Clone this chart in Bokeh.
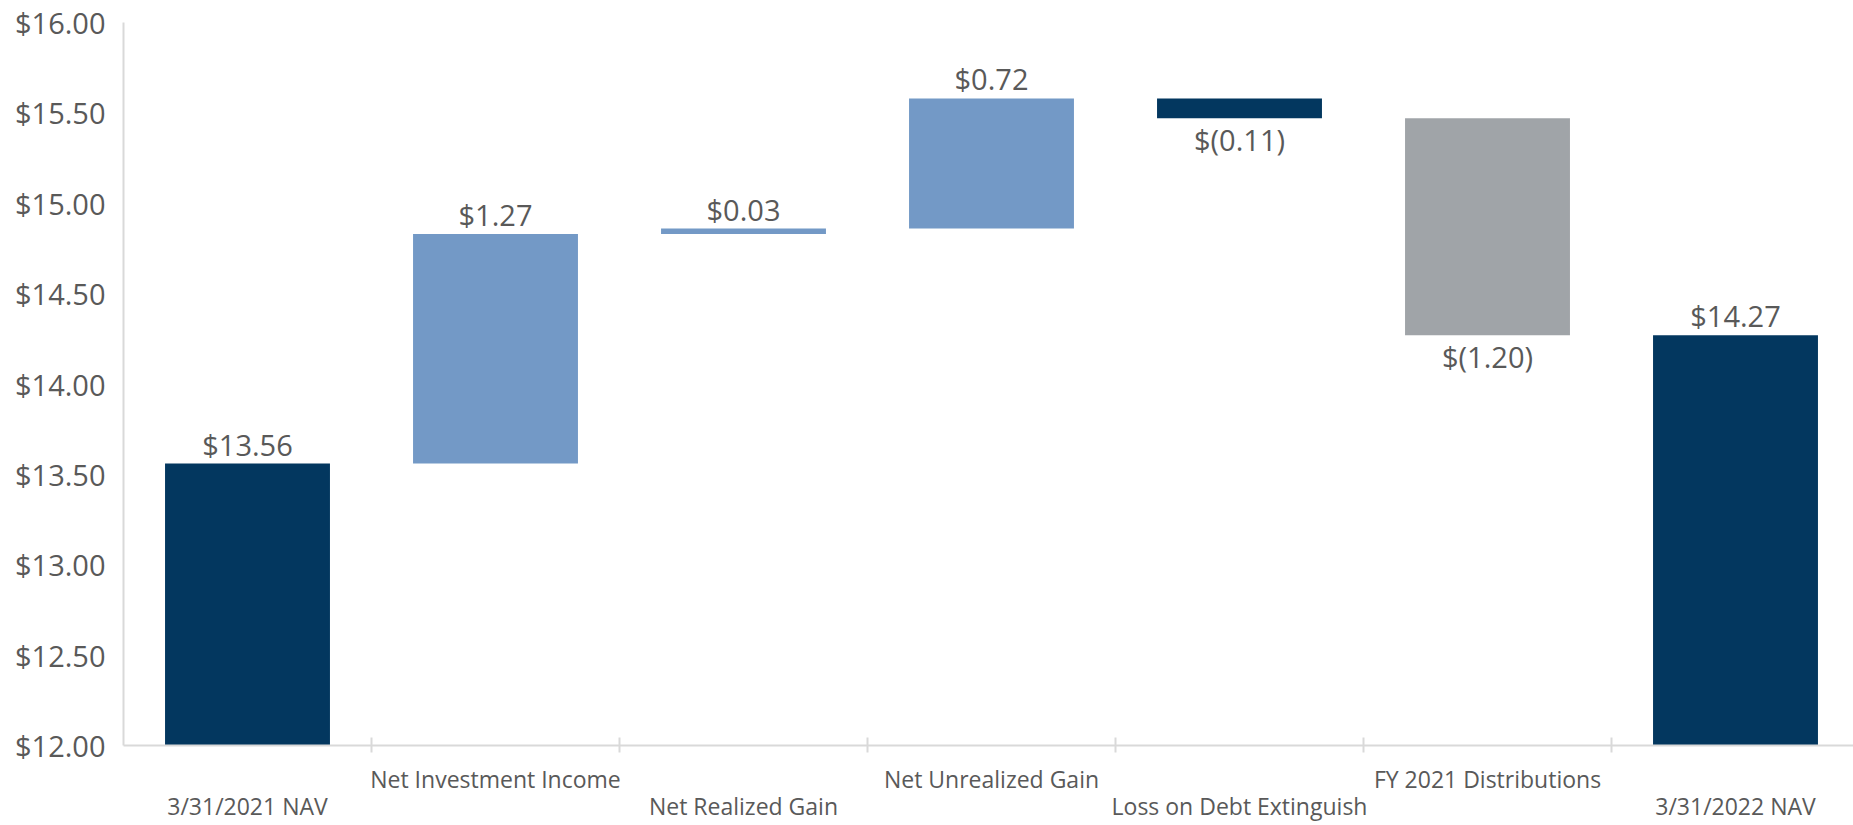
from bokeh.plotting import figure
from bokeh.models import (Range1d, FixedTicker, NumeralTickFormatter, ColumnDataSource,
                          LinearAxis, CustomJSTickFormatter)
from bokeh.core.properties import value
from bokeh.embed import file_html
from bokeh.resources import INLINE

# ---- data ----
categories = ["3/31/2021 NAV", "Net Investment Income", "Net Realized Gain",
              "Net Unrealized Gain", "Loss on Debt Extinguish", "FY 2021 Distributions",
              "3/31/2022 NAV"]
amounts = [13.56, 1.27, 0.03, 0.72, -0.11, -1.20, 14.27]
kinds = ["total", "up", "up", "up", "down", "down", "total"]
bar_colors = ["#03375F", "#7399C6", "#7399C6", "#7399C6", "#03375F", "#A0A4A8", "#03375F"]
y_ticks = [12.0, 12.5, 13.0, 13.5, 14.0, 14.5, 15.0, 15.5, 16.0]

# ---- waterfall geometry from data ----
bottoms, tops, label_y, label_txt, label_base, label_off = [], [], [], [], [], []
running = 0.0
for a, k in zip(amounts, kinds):
    if k == "total":
        b, t = 0.0, a
        running = a
    else:
        b, t = running, running + a
        running = t
    bottoms.append(min(b, t))
    tops.append(max(b, t))
    if a >= 0:
        label_txt.append("${:.2f}".format(a))
        label_y.append(max(b, t))
        label_base.append("bottom")
        label_off.append(0)
    else:
        label_txt.append("$({:.2f})".format(-a))
        label_y.append(min(b, t))
        label_base.append("top")
        label_off.append(2)

n = len(categories)
centers = [i + 0.5 for i in range(n)]

TEXT = "#595959"
FONT = "Open Sans"

p = figure(width=1853, height=825, output_backend="svg", toolbar_location=None,
           x_range=Range1d(0, 1730 / 248), y_range=Range1d(12, 16),
           min_border_left=123, min_border_top=22, min_border_bottom=80, min_border_right=0)
p.outline_line_color = None
p.xgrid.grid_line_color = None
p.ygrid.grid_line_color = None

src = ColumnDataSource(dict(x=centers, bottom=bottoms, top=tops, color=bar_colors,
                            ly=label_y, lt=label_txt, lb=label_base, lo=label_off))
p.vbar(x="x", width=0.665, bottom="bottom", top="top", fill_color="color",
       line_color=None, source=src)

p.text(x="x", y="ly", text="lt", text_baseline="lb", y_offset="lo", text_align="center",
       text_font=value(FONT), text_font_size="29px", text_color=TEXT, source=src)

# y axis
ya = p.yaxis[0]
ya.ticker = FixedTicker(ticks=y_ticks)
ya.formatter = NumeralTickFormatter(format="$0.00")
ya.major_tick_line_color = None
ya.minor_tick_line_color = None
ya.axis_line_color = "#D9D9D9"
ya.axis_line_width = 2
ya.major_label_text_font = FONT
ya.major_label_text_font_size = "29px"
ya.major_label_text_color = TEXT
ya.major_label_standoff = 12

# x axis: boundary ticks only
xa = p.xaxis[0]
xa.ticker = FixedTicker(ticks=list(range(1, n)))
xa.formatter = CustomJSTickFormatter(code="return ''")
xa.major_label_text_font_size = "1px"
xa.major_label_standoff = 0
xa.major_tick_in = 8
xa.major_tick_out = 7
xa.major_tick_line_color = "#D9D9D9"
xa.major_tick_line_width = 2
xa.minor_tick_line_color = None
xa.axis_line_color = "#D9D9D9"
xa.axis_line_width = 2

# staggered category labels on two label-only axes
def label_axis(idx, standoff):
    ax = LinearAxis(ticker=FixedTicker(ticks=[centers[i] for i in idx]),
                    major_label_overrides={centers[i]: categories[i] for i in idx})
    ax.axis_line_color = None
    ax.major_tick_line_color = None
    ax.minor_tick_line_color = None
    ax.major_tick_in = 0
    ax.major_tick_out = 0
    ax.major_label_standoff = standoff
    ax.major_label_text_font = FONT
    ax.major_label_text_font_size = "23px"
    ax.major_label_text_color = TEXT
    return ax

p.add_layout(label_axis([i for i in range(n) if i % 2 == 1], 10), "below")
p.add_layout(label_axis([i for i in range(n) if i % 2 == 0], -8), "below")

open("out.html", "w").write(file_html(p, INLINE))
